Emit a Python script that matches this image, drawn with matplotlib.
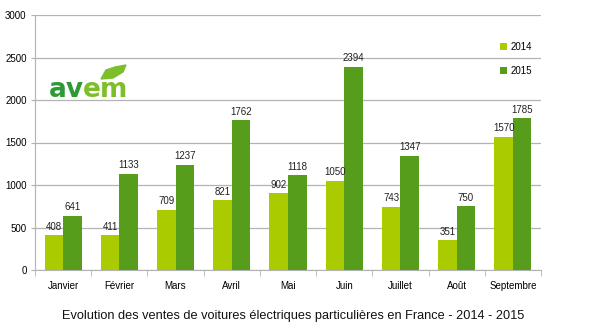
import matplotlib
matplotlib.use("Agg")
import matplotlib.pyplot as plt
from matplotlib.patches import Polygon
import numpy as np

months = ["Janvier", "Février", "Mars", "Avril", "Mai", "Juin", "Juillet", "Août", "Septembre"]
sales_2014 = [408, 411, 709, 821, 902, 1050, 743, 351, 1570]
sales_2015 = [641, 1133, 1237, 1762, 1118, 2394, 1347, 750, 1785]
yticks = [0, 500, 1000, 1500, 2000, 2500, 3000]

plt.rcParams['font.family'] = ['Liberation Sans', 'DejaVu Sans']

c14 = "#a9cb00"
c15 = "#579d1c"

fig = plt.figure(figsize=(6, 3.32), dpi=100)
ax = fig.add_axes([35/600, 1-270/332, 506/600, 255/332])

x = np.arange(len(months))
w = 0.33
b1 = ax.bar(x - w/2, sales_2014, w, color=c14, label="2014", zorder=3)
b2 = ax.bar(x + w/2, sales_2015, w, color=c15, label="2015", zorder=3)
for rects, vals in ((b1, sales_2014), (b2, sales_2015)):
    for r, v in zip(rects, vals):
        ax.text(r.get_x() + r.get_width()/2, v + 40, str(v), ha="center", va="bottom",
                fontsize=7, color="#222222")

ax.set_xlim(-0.5, len(months) - 0.5)
ax.set_ylim(0, 3000)
ax.set_yticks(yticks)
ax.set_yticklabels([str(t) for t in yticks], fontsize=7)
ax.yaxis.grid(True, color="#b3b3b3", linewidth=0.9, zorder=0)
ax.set_xticks(x)
ax.set_xticklabels(months, fontsize=7)
ax.tick_params(axis="x", length=0, pad=8)
ax.set_xticks(np.arange(len(months) + 1) - 0.5, minor=True)
ax.tick_params(axis="x", which="minor", length=4, color="#b3b3b3")
ax.tick_params(axis="y", length=3, color="#b3b3b3", pad=3)
for s in ("top", "right"):
    ax.spines[s].set_visible(False)
for s in ("left", "bottom"):
    ax.spines[s].set_color("#b3b3b3")

leg = ax.legend(loc="upper left", bbox_to_anchor=(0.905, 0.92), frameon=False, fontsize=7,
                handlelength=0.7, handleheight=0.7, labelspacing=1.45, handletextpad=0.4,
                borderpad=0.2)

# logo
fig.text(49/600, 1-97/332, "av", color="#2e9a35", fontsize=19, fontweight="bold", va="baseline",
         family="DejaVu Sans")
fig.text(83/600, 1-97/332, "em", color="#7dbf2b", fontsize=19, fontweight="bold", va="baseline",
         family="DejaVu Sans")
leaf = Polygon([(101/600, 1-79/332), (106/600, 1-70/332), (115/600, 1-67/332), (126/600, 1-65/332),
                (123/600, 1-72/332), (113/600, 1-78/332)], closed=True,
               transform=fig.transFigure, color="#7dbf2b")
fig.patches.append(leaf)

fig.text(293/600, 1-316/332, "Evolution des ventes de voitures électriques particulières en France - 2014 - 2015",
         ha="center", va="center", fontsize=9.2, color="#111111")

fig.savefig("out.png", dpi=100)
